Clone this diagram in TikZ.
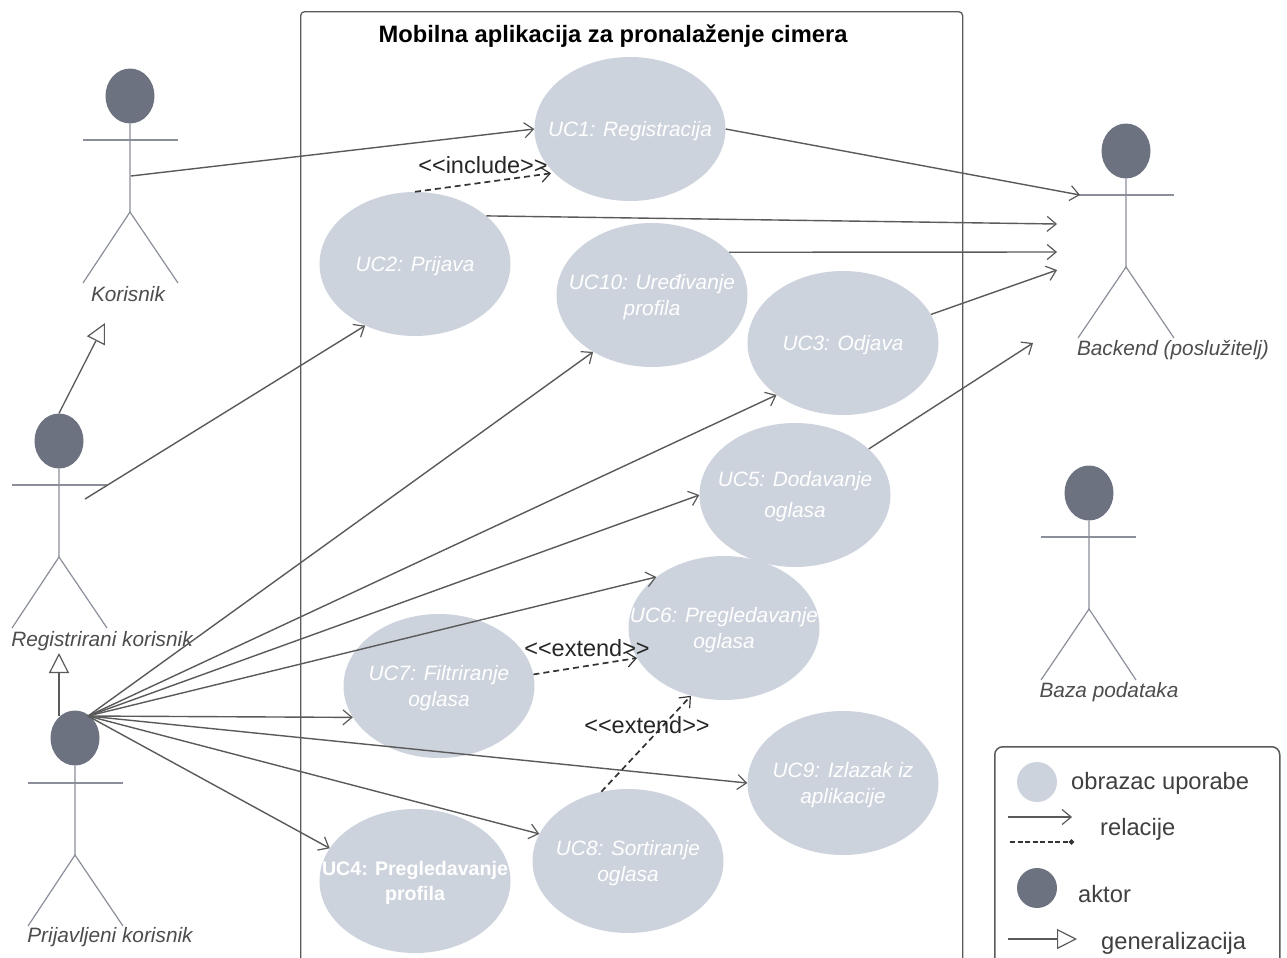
\documentclass[tikz,border=0pt]{standalone}
\usepackage{fontspec}
\setmainfont{Liberation Sans}
\usetikzlibrary{arrows.meta,shapes.geometric}
\definecolor{ucfill}{HTML}{CDD3DC}
\definecolor{actorfill}{HTML}{6C7280}
\definecolor{actorstroke}{HTML}{8A8F99}
\definecolor{linegray}{HTML}{5A5A5A}
\definecolor{labelgray}{HTML}{4D4D4D}
\begin{document}
\begin{tikzpicture}[scale=0.35146]
\tikzstyle{every node}+=[inner sep=0pt]
\tikzstyle{usecase}=[ellipse,fill=ucfill,minimum width=191pt,minimum height=144pt]
\tikzstyle{uctext}=[align=center,text=white,yshift=-2pt,font=\fontsize{20.8}{25.5}\selectfont\itshape]
\tikzstyle{actorhead}=[ellipse,fill=actorfill,minimum width=49pt,minimum height=55pt]
\tikzstyle{actorline}=[actorstroke,line width=1.2pt]
\tikzstyle{actorlabel}=[text=labelgray,font=\fontsize{20.8}{25}\selectfont\itshape]
\tikzstyle{assoc}=[linegray,line width=1.4pt,-{Straight Barb[length=9pt,width=15pt,line width=1.2pt]}]
\tikzstyle{dep}=[black!80,line width=1.7pt,dash pattern=on 6pt off 4pt,-{Straight Barb[length=9pt,width=15pt,line width=1.2pt]}]
\tikzstyle{gen}=[linegray,line width=1.3pt,-{Triangle[open,fill=white,length=20pt,width=20pt,line width=1.2pt]}]
\tikzstyle{stereo}=[text=black!85,font=\fontsize{23.5}{28}\selectfont]
\tikzstyle{legendtext}=[text=black!75,font=\fontsize{23.7}{28}\selectfont]
\useasboundingbox (0,0) rectangle (128.7,-95.8);
\fill [white] (0,0) rectangle (128.7,-95.8);
\node [draw=linegray,line width=1.3pt,rounded corners=4pt,minimum width=662pt,minimum height=960pt,anchor=north west] (app) at (30.0,-1.1) {};
\node [text=black,font=\fontsize{23.7}{28}\selectfont\bfseries] (apptitle) at (61.3,-3.6) {Mobilna aplikacija za pronalaženje cimera};
\node [usecase,label={[uctext]center:{UC1: Registracija}}] (uca) at (63.0,-12.9) {};
\node [usecase,label={[uctext]center:{UC2: Prijava}}] (ucb) at (41.5,-26.4) {};
\node [usecase,label={[uctext]center:{UC10: Uređivanje\\profila}}] (ucj) at (65.2,-29.5) {};
\node [usecase,label={[uctext]center:{UC3: Odjava}}] (ucc) at (84.3,-34.3) {};
\node [usecase,label={[uctext]center:{UC5: Dodavanje\\[5.5pt]oglasa}}] (uce) at (79.5,-49.5) {};
\node [usecase,label={[uctext]center:{UC6: Pregledavanje\\oglasa}}] (ucf) at (72.4,-62.8) {};
\node [usecase,label={[uctext]center:{UC7: Filtriranje\\oglasa}}] (ucg) at (43.9,-68.6) {};
\node [usecase,label={[uctext]center:{UC8: Sortiranje\\oglasa}}] (uch) at (62.8,-86.1) {};
\node [usecase,label={[uctext,font=\fontsize{19.6}{25.5}\selectfont\bfseries]center:{UC4: Pregledavanje\\profila}}] (ucd) at (41.5,-88.1) {};
\node [usecase,label={[uctext]center:{UC9: Izlazak iz\\aplikacije}}] (uci) at (84.3,-78.3) {};
\node [actorhead] (kor) at (13.0,-9.6) {};
\coordinate (korhip) at (13.0,-21.2);
\draw [actorline] (kor) -- (korhip);
\draw [actorline] (8.3,-14.0) -- (17.8,-14.0);
\draw [actorline] (8.3,-28.3) -- (korhip) -- (17.8,-28.3);
\node [actorlabel] (korlabel) at (12.8,-29.4) {Korisnik};
\node [actorhead] (back) at (112.6,-15.1) {};
\coordinate (backhip) at (112.6,-26.7);
\draw [actorline] (back) -- (backhip);
\draw [actorline] (107.8,-19.5) -- (117.4,-19.5);
\draw [actorline] (107.8,-33.8) -- (backhip) -- (117.4,-33.8);
\node [actorlabel] (backlabel) at (117.3,-35.0) {Backend (poslužitelj)};
\node [actorhead] (baza) at (108.9,-49.3) {};
\coordinate (bazahip) at (108.9,-60.9);
\draw [actorline] (baza) -- (bazahip);
\draw [actorline] (104.1,-53.7) -- (113.6,-53.7);
\draw [actorline] (104.1,-68.0) -- (bazahip) -- (113.6,-68.0);
\node [actorlabel] (bazalabel) at (110.9,-69.2) {Baza podataka};
\node [actorhead] (reg) at (5.9,-44.1) {};
\coordinate (reghip) at (5.9,-55.7);
\draw [actorline] (reg) -- (reghip);
\draw [actorline] (1.2,-48.5) -- (10.7,-48.5);
\draw [actorline] (1.2,-62.8) -- (reghip) -- (10.7,-62.8);
\node [actorlabel] (reglabel) at (10.2,-64.1) {Registrirani korisnik};
\node [actorhead] (pri) at (7.5,-73.8) {};
\coordinate (prihip) at (7.5,-85.5);
\draw [actorline] (pri) -- (prihip);
\draw [actorline] (2.8,-78.3) -- (12.3,-78.3);
\draw [actorline] (2.8,-92.6) -- (prihip) -- (12.3,-92.6);
\node [actorlabel] (prilabel) at (11.0,-93.7) {Prijavljeni korisnik};
\coordinate (korout) at (13.1,-17.6);
\coordinate (regout) at (8.5,-49.9);
\coordinate (priout) at (8.8,-71.6);
\coordinate (backa) at (108.0,-19.5);
\coordinate (backb) at (105.7,-22.4);
\coordinate (backc) at (105.7,-25.2);
\coordinate (backd) at (105.7,-27.0);
\coordinate (backe) at (103.3,-34.3);
\draw [assoc] (korout) -- (uca.180);
\draw [assoc] (regout) -- (ucb.231);
\draw [assoc] (priout) -- (ucj.224);
\draw [assoc] (priout) -- (ucc.218);
\draw [assoc] (priout) -- (uce.180);
\draw [assoc] (priout) -- (ucf.143);
\draw [assoc] (priout) -- (ucg.200);
\draw [assoc] (priout) -- (uci.180);
\draw [assoc] (priout) -- (uch.163);
\draw [assoc] (priout) -- (ucd.159);
\draw [assoc] (uca.0) -- (backa);
\draw [assoc] (ucb.34) -- (backb);
\draw [assoc] (ucj.29) -- (backc);
\draw [assoc] (ucc.18) -- (backd);
\draw [assoc] (uce.32) -- (backe);
\draw [dep,shorten >=3pt] (ucb.90) -- (uca.210);
\draw [dep] (ucg.7) -- (ucf.199);
\draw [dep] (uch.111) -- (ucf.244);
\node [stereo] (includelabel) at (48.3,-16.5) {<{}<include>{}>};
\node [stereo] (extendfg) at (58.7,-64.8) {<{}<extend>{}>};
\node [stereo] (extendhf) at (64.7,-72.5) {<{}<extend>{}>};
\draw [gen] (reg.north) -- (10.5,-32.3);
\draw [gen] (5.9,-71.6) -- (5.9,-65.3);
\node [draw=linegray,line width=1.5pt,rounded corners=8pt,minimum width=285pt,minimum height=225pt,anchor=north west] (legend) at (99.4,-74.6) {};
\node [ellipse,fill=ucfill,minimum width=40pt,minimum height=40pt] (legenduc) at (103.7,-78.2) {};
\node [legendtext,anchor=west] (legenductext) at (107.1,-78.3) {obrazac uporabe};
\coordinate (legenda) at (100.8,-81.7);
\coordinate (legendb) at (107.2,-81.7);
\draw [assoc] (legenda) -- (legendb);
\coordinate (legendc) at (101.0,-84.2);
\coordinate (legendd) at (107.4,-84.2);
\draw [black!80,line width=2pt,dash pattern=on 5pt off 2.5pt,-{Circle[length=5pt,width=5pt]}] (legendc) -- (legendd);
\node [legendtext,anchor=west] (legendrel) at (110.0,-82.9) {relacije};
\node [ellipse,fill=actorfill,minimum width=40pt,minimum height=40pt] (legendactor) at (103.7,-88.8) {};
\node [legendtext,anchor=west] (legendactortext) at (107.8,-89.4) {aktor};
\coordinate (legende) at (100.8,-93.9);
\coordinate (legendf) at (107.7,-93.9);
\draw [gen] (legende) -- (legendf);
\node [legendtext,anchor=west] (legendgen) at (110.1,-94.3) {generalizacija};
\end{tikzpicture}
\end{document}
